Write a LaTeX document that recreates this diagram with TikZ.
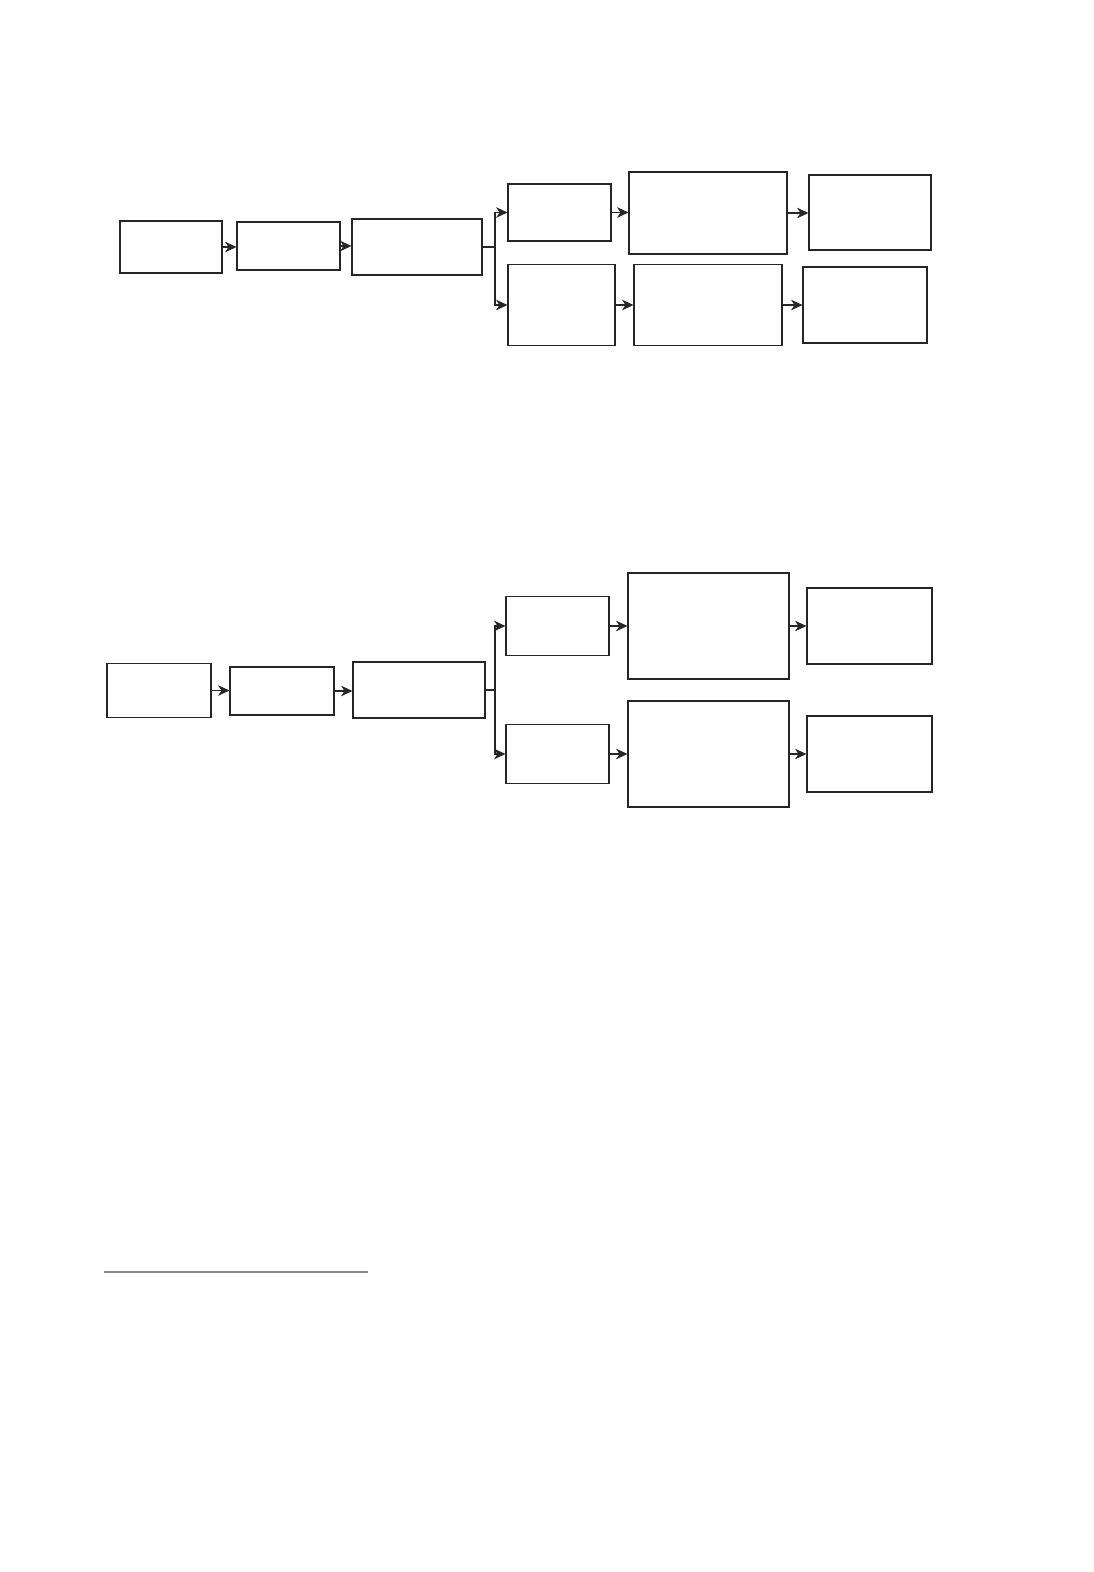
\documentclass[tikz,border=0pt]{standalone}
\usetikzlibrary{arrows.meta}
\tikzset{
	box/.style={draw=black!85, line width=0.6pt, inner sep=0pt, rectangle},
	link/.style={draw=black!85, line width=0.6pt, -{Stealth[length=6.5pt,width=6pt,inset=2pt]}}
}
\begin{document}
\begin{tikzpicture}[x=0.02cm,y=-0.02cm]
		\useasboundingbox (0,0) rectangle (1094,1572);
		%Top chart, main line
		\node[box, minimum width=2.04cm, minimum height=1.04cm] (a1) at (171,247) {};
		\node[box, minimum width=2.06cm, minimum height=0.96cm] (a2) at (288.5,246) {};
		\node[box, minimum width=2.6cm, minimum height=1.12cm] (a3) at (417,247) {};
		\draw[link] (a1.east) -- (a2.west |- a1.east);
		\draw[link] (a2.east) -- (a3.west |- a2.east);
		\draw[line width=0.6pt, draw=black!85] (a3.east) -- (495,247) coordinate (s1);
		%Top chart, upper branch
		\node[box, minimum width=2.06cm, minimum height=1.14cm] (b1) at (559.5,212.5) {};
		\node[box, minimum width=3.16cm, minimum height=1.64cm] (b2) at (708,213) {};
		\node[box, minimum width=2.44cm, minimum height=1.5cm] (b3) at (870,212.5) {};
		\draw[link] (s1) |- (b1.west);
		\draw[link] (b1.east) -- (b2.west |- b1.east);
		\draw[link] (b2.east) -- (b3.west |- b2.east);
		%Top chart, lower branch
		\node[box, minimum width=2.14cm, minimum height=1.62cm] (c1) at (561.5,305) {};
		\node[box, minimum width=2.96cm, minimum height=1.62cm] (c2) at (708,305) {};
		\node[box, minimum width=2.48cm, minimum height=1.52cm] (c3) at (865,305) {};
		\draw[link] (s1) |- (c1.west);
		\draw[link] (c1.east) -- (c2.west |- c1.east);
		\draw[link] (c2.east) -- (c3.west |- c2.east);
		%Bottom chart, main line
		\node[box, minimum width=2.08cm, minimum height=1.08cm] (d1) at (159,690.5) {};
		\node[box, minimum width=2.08cm, minimum height=0.96cm] (d2) at (282,691) {};
		\node[box, minimum width=2.64cm, minimum height=1.12cm] (d3) at (419,690) {};
		\draw[link] (d1.east) -- (d2.west |- d1.east);
		\draw[link] (d2.east) -- (d3.west |- d2.east);
		\draw[line width=0.6pt, draw=black!85] (d3.east) -- (495,690) coordinate (s2);
		%Bottom chart, upper branch
		\node[box, minimum width=2.06cm, minimum height=1.18cm] (e1) at (557.5,626) {};
		\node[box, minimum width=3.22cm, minimum height=2.12cm] (e2) at (708.5,626) {};
		\node[box, minimum width=2.5cm, minimum height=1.52cm] (e3) at (869.5,626) {};
		\draw[link] (s2) |- (e1.west);
		\draw[link] (e1.east) -- (e2.west |- e1.east);
		\draw[link] (e2.east) -- (e3.west |- e2.east);
		%Bottom chart, lower branch
		\node[box, minimum width=2.06cm, minimum height=1.18cm] (f1) at (557.5,754) {};
		\node[box, minimum width=3.22cm, minimum height=2.12cm] (f2) at (708.5,754) {};
		\node[box, minimum width=2.5cm, minimum height=1.52cm] (f3) at (869.5,754) {};
		\draw[link] (s2) |- (f1.west);
		\draw[link] (f1.east) -- (f2.west |- f1.east);
		\draw[link] (f2.east) -- (f3.west |- f2.east);
		%Rule
		\coordinate (r1) at (104,1272);
		\coordinate (r2) at (368,1272);
		\draw[black!45, line width=0.8pt] (r1) -- (r2);
\end{tikzpicture}
\end{document}
